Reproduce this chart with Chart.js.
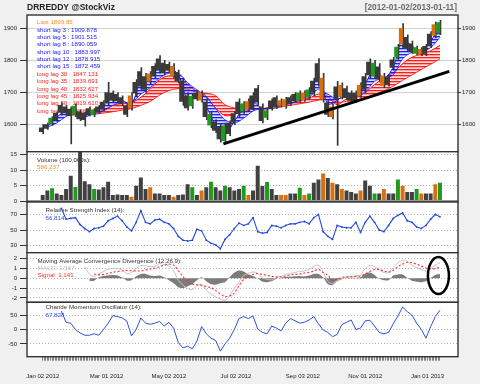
<!DOCTYPE html>
<html><head><meta charset="utf-8">
<script src="https://cdn.jsdelivr.net/npm/chart.js@4/dist/chart.umd.min.js"></script>
<style>
html,body{margin:0;padding:0;background:#f0f0f0;}
#wrap{position:relative;width:480px;height:384px;overflow:hidden;background:#f0f0f0;}
canvas{position:absolute;left:0;top:0;}
</style></head><body><div id="wrap">
<canvas id="cMain" width="480" height="384"></canvas>
<canvas id="cVol" width="480" height="384"></canvas>
<canvas id="cRsi" width="480" height="384"></canvas>
<canvas id="cMacd" width="480" height="384"></canvas>
<canvas id="cCmo" width="480" height="384"></canvas>
</div>
<script>
// ---------------- DATA ----------------
// trading-day index of every price / indicator sample (every 3rd session, Jan 02 2012 = 0)
const priceDays = Array.from({length: 86}, (_, i) => i * 3);
// trading-day index of moving-average samples
const maDays = Array.from({length: 43}, (_, i) => 3 + i * 6);
// every trading session (for the x tick comb)
const tradingDays = Array.from({length: 256}, (_, i) => i);

const dateTickDays = [0, 41, 81, 124, 167, 207, 247];
const dateLabels = ['Jan 02 2012', 'Mar 01 2012', 'May 02 2012', 'Jul 02 2012', 'Sep 03 2012', 'Nov 01 2012', 'Jan 01 2013'];

const priceTicks = [1600, 1700, 1800, 1900];
const volTicks = [0, 5, 10, 15];
const rsiTicks = [30, 40, 50, 60, 70, 80];
const macdTicks = [-2, -1, 0, 1, 2];
const cmoTicks = [-50, 0, 50];

const priceHigh = [1600,1605,1625,1640,1668,1660,1655,1665,1645,1640,
  1655,1650,1660,1675,1732,1705,1700,1690,1665,1700,
  1740,1778,1760,1765,1790,1815,1800,1795,1790,1770,
  1745,1700,1695,1705,1705,1680,1640,1615,1600,1605,
  1612,1640,1680,1672,1680,1700,1722,1665,1650,1680,
  1690,1680,1685,1690,1700,1705,1705,1715,1745,1806,
  1760,1675,1665,1735,1730,1720,1705,1705,1730,1760,
  1805,1800,1790,1760,1755,1810,1850,1915,1880,1860,
  1845,1840,1850,1890,1920,1925];
const priceLow = [1572,1585,1597,1610,1630,1630,1540,1625,1612,1595,
  1627,1625,1635,1643,1660,1670,1668,1660,1625,1645,
  1690,1710,1700,1727,1745,1760,1755,1765,1745,1730,
  1660,1645,1650,1675,1670,1615,1590,1575,1545,1540,
  1565,1600,1625,1635,1640,1645,1660,1605,1615,1645,
  1650,1655,1650,1660,1668,1670,1672,1680,1690,1720,
  1670,1625,1618,1535,1680,1678,1670,1668,1685,1700,
  1745,1745,1735,1715,1720,1770,1800,1840,1830,1822,
  1818,1815,1815,1840,1870,1880];
// candle bodies (open/close extent)
const bodyLow = [1578,1588,1603,1615,1638,1636,1628,1632,1618,1615,
  1632,1630,1640,1648,1668,1676,1674,1665,1632,1652,
  1698,1720,1710,1735,1752,1770,1762,1770,1752,1736,
  1672,1652,1658,1680,1676,1625,1598,1582,1555,1550,
  1572,1608,1634,1642,1648,1652,1670,1612,1622,1650,
  1656,1660,1656,1666,1674,1676,1678,1686,1700,1735,
  1680,1632,1625,1680,1686,1684,1675,1674,1692,1710,
  1755,1752,1742,1722,1726,1778,1810,1852,1838,1828,
  1822,1820,1822,1848,1878,1886];
const bodyHigh = [1590,1600,1620,1635,1660,1655,1648,1658,1640,1635,
  1650,1645,1655,1670,1700,1698,1694,1684,1658,1690,
  1732,1765,1750,1758,1782,1805,1792,1788,1782,1762,
  1735,1690,1688,1698,1698,1670,1632,1608,1592,1596,
  1605,1634,1670,1665,1672,1690,1712,1655,1644,1674,
  1684,1675,1678,1684,1694,1698,1698,1708,1736,1790,
  1745,1668,1655,1718,1722,1712,1698,1698,1722,1750,
  1795,1792,1780,1752,1748,1802,1842,1900,1872,1852,
  1840,1835,1844,1882,1912,1918];

const shortLag3 = [1595,1622,1645,1643,1625,1638,1658,1686,1676,1665,
  1738,1745,1782,1780,1755,1680,1688,1655,1597,1572,
  1610,1652,1670,1650,1655,1668,1674,1687,1697,1750,
  1665,1675,1700,1688,1728,1772,1745,1780,1865,1845,
  1830,1860,1910];
const shortLag15 = [1592,1605,1625,1636,1634,1634,1642,1660,1670,1667,
  1695,1715,1745,1760,1760,1730,1708,1688,1650,1615,
  1605,1620,1642,1650,1650,1658,1665,1675,1685,1710,
  1695,1680,1688,1690,1703,1735,1745,1755,1805,1825,
  1828,1840,1872];
const longLag30 = [null,null,1632,1636,1636,1638,1645,1660,1665,1668,
  1685,1710,1740,1752,1745,1725,1702,1685,1652,1628,
  1632,1640,1648,1650,1655,1660,1668,1675,1682,1695,
  1688,1662,1680,1685,1700,1725,1745,1762,1790,1810,
  1820,1830,1847];
const longLag60 = [null,null,1628,1630,1630,1632,1636,1640,1645,1650,
  1660,1672,1692,1706,1712,1710,1700,1698,1690,1662,
  1652,1650,1650,1648,1650,1655,1660,1665,1670,1676,
  1678,1670,1672,1675,1682,1692,1705,1720,1738,1755,
  1772,1788,1805];

const trendDays = [116, 261];
const trendVals = [1540, 1766];

const volume = [2,3.5,4.2,2.5,2,4,8.2,4.6,16,6.5,
  5.5,4,3.8,4.5,6.3,2,2.2,2,2,1.5,
  5,7.7,4,4.5,2.5,2.5,2,2,1.5,2,
  2.2,5.5,4.5,2,3.5,4.5,6.3,4.5,3.5,5,
  4.5,3.5,4,5,2,3.5,11.5,4.9,6.2,4,
  2,2,2,2.5,2.5,4.4,2,2.5,6,7,
  9,7.5,6,5.5,4,3.5,3,2.5,3.5,6.7,
  5,2.5,2.5,4,2.5,2.5,7,5,3,3,
  4,2.5,2.5,2.5,5.5,6];
// bar kind per session: k = plain, g = green, o = orange
const volKind = ('kkgkkkkgkk' + 'kgkkkkkkko' + 'kkkokkkkok' + 'kkgkokgkkg' + 'kkkgokkkgk' +
  'kookkgogkk' + 'okokokkkok' + 'kgkokkgokk' + 'gokkog').split('');

const rsi = [null,null,null,null,78,64,65,66,57,52,
  48,52,53,55,62,65,68,62,54,49,
  60,75,60,58,63,64,60,58,52,42,
  37,36,37,51,49,37,33,31,26,38,
  44,52,59,56,58,66,48,46,47,56,
  55,53,56,58,58,60,61,58,66,70,
  48,42,38,56,54,53,53,60,47,60,
  68,60,50,48,56,65,69,72,62,60,
  54,52,56,64,70,67];

const macd = [null,null,null,null,null,null,null,null,null,1.2,
  0.4,0.2,0.45,0.7,0.95,1.0,1.0,0.85,0.5,0.6,
  1.0,1.3,1.3,1.2,1.25,1.5,1.4,1.25,0.8,-0.2,
  -0.7,-1.05,-1.15,-0.75,-0.6,-1.2,-1.6,-1.9,-2.1,-2.25,
  -1.8,-1.0,-0.4,0.3,0.5,0.65,0.5,0.05,-0.1,-0.15,
  0.1,0.2,0.4,0.5,0.6,0.7,0.75,0.9,1.2,1.35,
  0.7,-0.3,-0.55,-0.2,0.0,0.15,0.2,0.25,0.35,1.0,
  1.3,1.2,0.85,0.6,0.6,1.1,1.6,1.85,1.7,1.35,
  1.1,0.9,0.75,1.0,1.35,1.57];
const signal = [null,null,null,null,null,null,null,null,null,null,
  null,0.45,0.35,0.4,0.5,0.62,0.7,0.75,0.8,0.78,
  0.75,0.76,0.85,0.95,1.05,1.2,1.35,1.45,1.35,0.8,
  0.2,-0.35,-0.6,-0.65,-0.72,-0.85,-0.95,-1.25,-1.6,-1.85,
  -1.8,-1.5,-0.75,-0.1,0.2,0.4,0.5,0.4,0.3,0.2,
  0.15,0.15,0.25,0.35,0.4,0.45,0.55,0.6,0.75,0.9,
  0.6,0.3,-0.2,-0.1,0.1,0.15,0.15,0.2,0.25,0.45,
  0.7,0.9,0.9,0.75,0.65,0.8,1.2,1.45,1.65,1.6,
  1.45,1.25,1.05,0.95,1.0,1.14];
const histogram = [null,null,null,null,null,null,null,null,null,null,
  -0.3,-0.25,0.1,0.25,0.3,0.35,0.3,0.1,-0.25,-0.2,
  0.2,0.45,0.45,0.3,0.25,0.3,0.1,-0.2,-0.5,-0.9,
  -1.0,-0.8,-0.6,-0.2,0.1,-0.3,-0.6,-0.65,-0.5,-0.4,
  0.1,0.6,0.8,0.7,0.4,0.25,0.0,-0.35,-0.4,-0.3,
  -0.05,0.05,0.15,0.15,0.2,0.25,0.2,0.3,0.45,0.45,
  0.1,-0.6,-0.7,-0.3,-0.1,0.05,0.05,0.05,0.1,0.5,
  0.6,0.35,-0.05,-0.2,-0.2,0.3,0.4,0.4,0.05,-0.25,
  -0.35,-0.4,-0.3,0.05,0.35,0.43];
const ellipseCenter = [254, 0.28];

const cmo = [null,null,null,null,64,25,22,0,-12,-20,
  -20,-15,-20,0,22,48,45,40,29,-22,
  0,40,22,18,22,28,12,25,5,-45,
  -64,-58,-67,-40,10,-15,-30,-38,-75,-50,
  -30,0,38,45,38,47,2,-10,-15,12,
  5,-5,22,38,30,22,25,33,45,20,
  -2,-10,-25,-17,17,25,33,0,5,30,
  32,12,-10,-15,-10,20,47,78,62,50,
  22,0,-30,10,45,67];

const mainLegend = [
  ['Last 1899.85', 'o'],
  ['short lag 3 : 1909.878', 'b'], ['short lag 5 : 1901.515', 'b'], ['short lag 8 : 1890.059', 'b'],
  ['short lag 10 : 1883.997', 'b'], ['short lag 12 : 1878.915', 'b'], ['short lag 15 : 1872.459', 'b'],
  ['long lag 30 : 1847.131', 'r'], ['long lag 35 : 1839.691', 'r'], ['long lag 40 : 1832.627', 'r'],
  ['long lag 45 : 1825.934', 'r'], ['long lag 50 : 1819.610', 'r'], ['long lag 60 : 1808.093', 'r']
];

// ---------------- LAYOUT / STYLE ----------------
const W = 480, H = 384;
const FONT = '"Liberation Sans", Arial, sans-serif';
const panels = {
  main: {top: 15, bottom: 151.7},
  vol: {top: 151.7, bottom: 202},
  rsi: {top: 202, bottom: 252.7},
  macd: {top: 252.7, bottom: 302.3},
  cmo: {top: 302.3, bottom: 356.7}
};
const AXIS_LEFT = 27, AXIS_RIGHT = 22;
const X_MIN = -10.08, X_MAX = 266.56;
const COL = {o: '#ff8c1a', b: '#2020ff', r: '#ff2020'};
const CANDLE = {k: '#3a3a3a', g: '#1f9a1f', o: '#d8700f'};

const xy = (xs, ys) => xs.map((x, i) => ({x, y: ys[i]}));

// striped fill to imitate bundles of thin moving-average lines
function stripes(line, gap) {
  const c = document.createElement('canvas'); c.width = 4; c.height = 3;
  const g = c.getContext('2d');
  g.fillStyle = gap; g.fillRect(0, 0, 4, 3);
  g.fillStyle = line; g.fillRect(0, 0, 4, 1.3);
  return g.createPattern(c, 'repeat');
}

function hiddenX() {
  return {type: 'linear', min: X_MIN, max: X_MAX, display: false, offset: false, grid: {offset: false}};
}
function yAxis(min, max, ticks, dotted, extra) {
  return Object.assign({
    type: 'linear', position: 'left', min, max,
    afterBuildTicks: s => { s.ticks = ticks.map(v => ({value: v})); },
    afterFit: s => { s.width = AXIS_LEFT; },
    grid: {color: dotted ? '#b4b4b4' : '#d2d2d2', lineWidth: 1, drawTicks: true, tickLength: 7, tickColor: '#333', tickWidth: 1},
    border: {display: false, dash: dotted ? [1, 2] : []},
    ticks: {font: {size: 6, family: FONT}, color: '#222', padding: 3, callback: v => String(v)}
  }, extra || {});
}

function drawTexts(ctx, items) {
  ctx.save();
  ctx.textBaseline = 'middle';
  for (const t of items) {
    ctx.font = (t.bold ? 'bold ' : '') + t.size + 'px ' + FONT;
    ctx.fillStyle = t.color;
    ctx.textAlign = t.align || 'left';
    ctx.fillText(t.text, t.x, t.y);
  }
  ctx.restore();
}

const panelPlugin = {
  id: 'panel',
  beforeDraw(chart, args, o) {
    const a = chart.chartArea, ctx = chart.ctx;
    ctx.save(); ctx.fillStyle = '#ffffff'; ctx.fillRect(a.left, a.top, a.width, a.height); ctx.restore();
  },
  beforeDatasetsDraw(chart, args, o) {
    if (o.texts) drawTexts(chart.ctx, o.texts);
  },
  afterDraw(chart, args, o) {
    const a = chart.chartArea, ctx = chart.ctx;
    if (o.extra) o.extra(chart);
    ctx.save(); ctx.strokeStyle = '#333'; ctx.lineWidth = 1.4;
    ctx.strokeRect(a.left, a.top, a.width, a.height); ctx.restore();
    if (o.outer) drawTexts(ctx, o.outer);
  }
};

function baseOptions(panel, scales, pluginOpts, bottomPad) {
  return {
    responsive: false, animation: false, devicePixelRatio: 1, events: [],
    layout: {padding: {top: panel.top, bottom: bottomPad, left: 0, right: scales.y2 ? 0 : AXIS_RIGHT}},
    scales,
    plugins: {legend: {display: false}, tooltip: {enabled: false}, panel: pluginOpts}
  };
}

// ---------------- MAIN PRICE PANEL ----------------
const legendTexts = mainLegend.map((m, i) => ({text: m[0], color: COL[m[1]], x: 37, y: 22.5 + i * 7.38, size: 6.2}));
new Chart(document.getElementById('cMain'), {
  type: 'line',
  data: {datasets: [
    {type: 'line', data: xy(trendDays, trendVals), borderColor: '#000', borderWidth: 3, pointRadius: 0, order: 0},
    {type: 'bar', data: priceDays.map((d, i) => ({x: d, y: [bodyLow[i], bodyHigh[i]]})),
      backgroundColor: volKind.map(k => CANDLE[k]), barThickness: 3.4, order: 1},
    {type: 'bar', data: priceDays.map((d, i) => ({x: d, y: [priceLow[i], priceHigh[i]]})),
      backgroundColor: '#333', barThickness: 1, order: 1},
    {data: xy(maDays, shortLag3), borderColor: '#1010ff', borderWidth: 1, pointRadius: 0, tension: 0.35,
      fill: '+1', backgroundColor: stripes('rgba(20,20,255,0.95)', 'rgba(120,120,255,0.25)'), order: 2},
    {data: xy(maDays, shortLag15), borderColor: '#3a3aff', borderWidth: 1, pointRadius: 0, tension: 0.35, fill: false, order: 2},
    {data: xy(maDays, longLag30), borderColor: '#ff1010', borderWidth: 1, pointRadius: 0, tension: 0.35,
      fill: '+1', backgroundColor: stripes('rgba(255,20,20,0.95)', 'rgba(255,120,120,0.25)'), order: 3},
    {data: xy(maDays, longLag60), borderColor: '#ff2020', borderWidth: 1, pointRadius: 0, tension: 0.35, fill: false, order: 3}
  ]},
  options: baseOptions(panels.main, {
    x: hiddenX(),
    y: yAxis(1515.4, 1941.7, priceTicks, false),
    y2: yAxis(1515.4, 1941.7, priceTicks, false, {
      position: 'right',
      afterFit: s => { s.width = AXIS_RIGHT; },
      grid: {drawOnChartArea: false, drawTicks: true, tickLength: 3, tickColor: '#333'},
      ticks: {font: {size: 6, family: FONT}, color: '#222', padding: 1, callback: v => String(v)}
    })
  }, {
    texts: legendTexts,
    outer: [
      {text: 'DRREDDY @StockViz', x: 27, y: 8, size: 8.5, bold: true, color: '#222'},
      {text: '[2012-01-02/2013-01-11]', x: 457, y: 8, size: 8.3, bold: true, color: '#6a6a6a', align: 'right'}
    ]
  }, H - panels.main.bottom),
  plugins: [panelPlugin]
});

// ---------------- VOLUME ----------------
new Chart(document.getElementById('cVol'), {
  type: 'bar',
  data: {datasets: [{data: xy(priceDays, volume), backgroundColor: volKind.map(k => CANDLE[k] === '#3a3a3a' ? '#404040' : CANDLE[k]),
    barPercentage: 0.85, categoryPercentage: 1, borderWidth: 0}]},
  options: baseOptions(panels.vol, {
    x: hiddenX(),
    y: yAxis(-0.23, 16.0, volTicks, true)
  }, {
    texts: [
      {text: 'Volume (100,000s):', x: 37, y: 160, size: 6.2, color: '#333'},
      {text: '586.237', x: 37, y: 167.5, size: 6.2, color: COL.o}
    ],
    extra: c => { const a = c.chartArea; c.ctx.save(); c.ctx.fillStyle = '#9a9a9a'; c.ctx.fillRect(a.left, a.bottom - 2, a.width, 2); c.ctx.restore(); }
  }, H - panels.vol.bottom),
  plugins: [panelPlugin]
});

// ---------------- RSI ----------------
new Chart(document.getElementById('cRsi'), {
  type: 'line',
  data: {datasets: [{data: xy(priceDays, rsi), borderColor: '#2248e0', borderWidth: 1.1,
    pointRadius: 0.9, pointBackgroundColor: '#2248e0', pointBorderWidth: 0, tension: 0}]},
  options: baseOptions(panels.rsi, {
    x: hiddenX(),
    y: yAxis(20.9, 86.1, rsiTicks, true)
  }, {
    texts: [
      {text: 'Relative Strength Index (14):', x: 45.5, y: 210, size: 6.2, color: '#333'},
      {text: '66.814', x: 45.5, y: 218.5, size: 6.2, color: '#3050ff'}
    ]
  }, H - panels.rsi.bottom),
  plugins: [panelPlugin]
});

// ---------------- MACD ----------------
new Chart(document.getElementById('cMacd'), {
  type: 'line',
  data: {datasets: [
    {data: xy(priceDays, signal), borderColor: '#ff2a2a', borderWidth: 1.1, borderDash: [2, 2], pointRadius: 0, tension: 0.3, order: 0},
    {data: xy(priceDays, macd), borderColor: '#c4c4c4', borderWidth: 1, pointRadius: 0, tension: 0.3, order: 1},
    {data: xy(priceDays, histogram), borderWidth: 0, borderColor: 'rgba(0,0,0,0)', backgroundColor: '#7c7c7c',
      fill: 'origin', pointRadius: 0, tension: 0.2, order: 2}
  ]},
  options: baseOptions(panels.macd, {
    x: hiddenX(),
    y: yAxis(-2.45, 2.62, macdTicks, true)
  }, {
    texts: [
      {text: 'Moving Average Convergence Divergence (12,26,9):', x: 37.5, y: 261, size: 6.2, color: '#333'},
      {text: 'MACD: 1.567', x: 37.5, y: 268, size: 6.2, color: '#bdbdbd'},
      {text: 'Signal: 1.141', x: 37.5, y: 275, size: 6.2, color: '#ff3030'}
    ],
    extra: c => {
      const cx = c.scales.x.getPixelForValue(ellipseCenter[0]);
      const cy = c.scales.y.getPixelForValue(ellipseCenter[1]);
      const ctx = c.ctx; ctx.save(); ctx.strokeStyle = '#000'; ctx.lineWidth = 2.5;
      ctx.beginPath(); ctx.ellipse(cx, cy, 10.5, 18.5, 0, 0, Math.PI * 2); ctx.stroke(); ctx.restore();
    }
  }, H - panels.macd.bottom),
  plugins: [panelPlugin]
});

// ---------------- CMO ----------------
new Chart(document.getElementById('cCmo'), {
  type: 'line',
  data: {datasets: [{data: xy(priceDays, cmo), borderColor: '#2a52e0', borderWidth: 1, pointRadius: 0, tension: 0}]},
  options: baseOptions(panels.cmo, {
    x: {
      type: 'linear', min: X_MIN, max: X_MAX, offset: false,
      afterBuildTicks: s => { s.ticks = tradingDays.map(v => ({value: v})); },
      afterFit: s => { s.height = H - panels.cmo.bottom; },
      grid: {drawOnChartArea: false, drawTicks: true, tickLength: 4, color: '#555', tickColor: '#555', tickWidth: 0.7, offset: false},
      border: {display: false},
      ticks: {autoSkip: false, maxRotation: 0, minRotation: 0, padding: 12, font: {size: 6, family: FONT}, color: '#222',
        callback: v => { const k = dateTickDays.indexOf(v); return k >= 0 ? dateLabels[k] : ''; }}
    },
    y: yAxis(-94.4, 94.4, cmoTicks, true)
  }, {
    texts: [
      {text: 'Chande Momentum Oscillator (14):', x: 45.5, y: 307.5, size: 6.2, color: '#333'},
      {text: '67.828', x: 45.5, y: 315.7, size: 6.2, color: '#3050ff'}
    ]
  }, 0),
  plugins: [panelPlugin]
});
</script>
</body></html>
